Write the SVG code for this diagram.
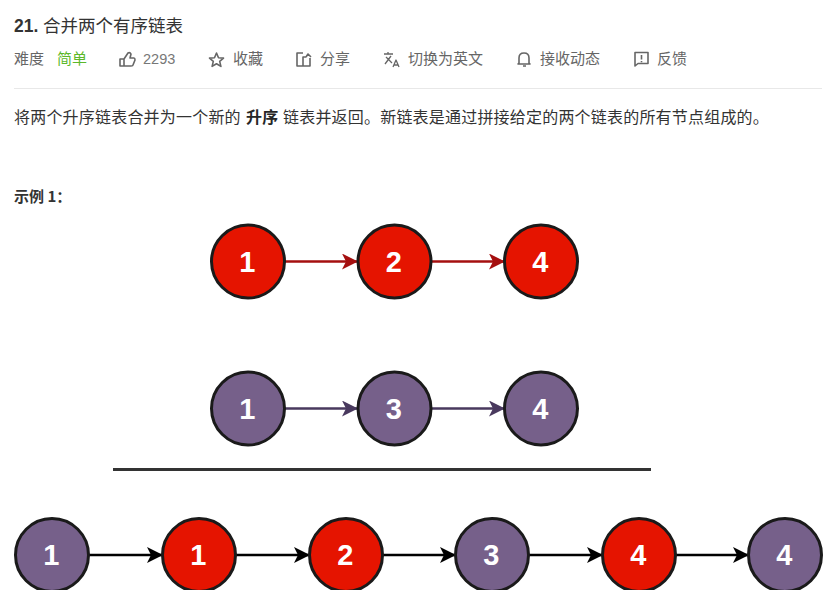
<svg xmlns="http://www.w3.org/2000/svg" width="826" height="590" viewBox="0 0 826 590">
<style>
text{font-family:"Noto Sans CJK SC","Liberation Sans",sans-serif}
.m{font-size:15px;fill:#666}
.b{font-size:16px;fill:#333;letter-spacing:.2px}
.n{font-family:"Liberation Sans",Arial,sans-serif;font-size:29px;font-weight:700;fill:#fff;text-anchor:middle}
.r{fill:#e51400;stroke:#1a1a1a;stroke-width:3}
.p{fill:#76608a;stroke:#1a1a1a;stroke-width:3}
.i{fill:none;stroke:#666;stroke-width:1.6;stroke-linejoin:round}
.c{fill:none;stroke-width:2.600}
</style>
<defs>
<marker id="ar" markerUnits="userSpaceOnUse" markerWidth="17" markerHeight="16" refX="16" refY="8" orient="auto"><path d="M0 0L16 8L0 16L4 8Z" fill="#a50f0f"/></marker>
<marker id="ap" markerUnits="userSpaceOnUse" markerWidth="17" markerHeight="16" refX="16" refY="8" orient="auto"><path d="M0 0L16 8L0 16L4 8Z" fill="#49395e"/></marker>
<marker id="ak" markerUnits="userSpaceOnUse" markerWidth="17" markerHeight="16" refX="16" refY="8" orient="auto"><path d="M0 0L16 8L0 16L4 8Z" fill="#000"/></marker>
</defs>
<rect width="826" height="590" fill="#fff"/>
<g id="header">
<text x="14" y="32" font-size="17.5" fill="#333" style="font-family:'Liberation Sans'" font-weight="700">21.</text>
<text x="43" y="32" font-size="17.5" fill="#333">合并两个有序链表</text>
<text x="14" y="64" class="m">难度</text>
<text x="57" y="64" class="m" style="fill:#5cb82a">简单</text>
<path class="i" d="M120 59h4v7h-4zM124 59l4-6q2-1 3 1l-1 4h4q1 0 1 2l-2 5q0 1-2 1h-7"/>
<text x="143" y="64" font-size="14.5" fill="#777" style="font-family:'Liberation Sans'">2293</text>
<path class="i" d="M216.500 53l2 4.700 5 .4-3.800 3.300 1.200 5-4.400-2.700-4.400 2.700 1.200-5-3.800-3.300 5-.4z"/>
<text x="233" y="64" class="m">收藏</text>
<path class="i" d="M303 53h-6v13h13v-8M303 66v-9h3M306 57l2-3 3 3"/>
<text x="320" y="64" class="m">分享</text>
<path class="i" d="M384 54h9M388 52v2M385 64l6-8M386 57l6 6M393 67l3-7 3 7M394 65h4" style="stroke-width:1.300"/>
<text x="408" y="64" class="m">切换为英文</text>
<path class="i" d="M519 63v-5q0-5 5-5t5 5v5l1 1h-12zM523 66h3"/>
<text x="540" y="64" class="m">接收动态</text>
<path class="i" d="M635 52.500h13v11h-10l-3 2.500zM641.500 55v4.500M641.500 61v1.200"/>
<text x="657" y="64" class="m">反馈</text>
<path d="M14 88.500H822" stroke="#e8e8e8" stroke-width="1"/>
<text x="14" y="123" class="b">将两个升序链表合并为一个新的</text>
<text x="246" y="123" class="b" font-weight="700" style="fill:#262626">升序</text>
<text x="283" y="123" class="b">链表并返回。新链表是通过拼接给定的两个链表的所有节点组成的。</text>
<text x="14" y="202" font-size="15" font-weight="700" fill="#333">示例 1：</text>
</g>
<g id="connectors">
<path class="c" stroke="#a50f0f" marker-end="url(#ar)" d="M285 261.500H358"/>
<path class="c" stroke="#a50f0f" marker-end="url(#ar)" d="M432 261.500H505"/>
<path class="c" stroke="#49395e" marker-end="url(#ap)" d="M285 408.500H358"/>
<path class="c" stroke="#49395e" marker-end="url(#ap)" d="M432 408.500H505"/>
<path class="c" stroke="#000" marker-end="url(#ak)" d="M89 555H163"/>
<path class="c" stroke="#000" marker-end="url(#ak)" d="M236 555H310"/>
<path class="c" stroke="#000" marker-end="url(#ak)" d="M383 555H456"/>
<path class="c" stroke="#000" marker-end="url(#ak)" d="M529 555H603"/>
<path class="c" stroke="#000" marker-end="url(#ak)" d="M676 555H749"/>
</g>
<path id="divider" d="M113 469.500H651" stroke="#333" stroke-width="3"/>
<g id="a1"><circle class="r" cx="248" cy="261.500" r="36.500"/><text class="n" x="247.300" y="271.500">1</text></g>
<g id="a2"><circle class="r" cx="394.500" cy="261.500" r="36.500"/><text class="n" x="393.800" y="271.500">2</text></g>
<g id="a4"><circle class="r" cx="541" cy="261.500" r="36.500"/><text class="n" x="540.300" y="271.500">4</text></g>
<g id="b1"><circle class="p" cx="248" cy="408.500" r="36.500"/><text class="n" x="247.300" y="418.500">1</text></g>
<g id="b3"><circle class="p" cx="394.500" cy="408.500" r="36.500"/><text class="n" x="393.800" y="418.500">3</text></g>
<g id="b4"><circle class="p" cx="541" cy="408.500" r="36.500"/><text class="n" x="540.300" y="418.500">4</text></g>
<g id="c1"><circle class="p" cx="52" cy="555" r="36.500"/><text class="n" x="51.300" y="565">1</text></g>
<g id="c2"><circle class="r" cx="199" cy="555" r="36.500"/><text class="n" x="198.300" y="565">1</text></g>
<g id="c3"><circle class="r" cx="346" cy="555" r="36.500"/><text class="n" x="345.300" y="565">2</text></g>
<g id="c4"><circle class="p" cx="492" cy="555" r="36.500"/><text class="n" x="491.300" y="565">3</text></g>
<g id="c5"><circle class="r" cx="639" cy="555" r="36.500"/><text class="n" x="638.300" y="565">4</text></g>
<g id="c6"><circle class="p" cx="785" cy="555" r="36.500"/><text class="n" x="784.300" y="565">4</text></g>
</svg>
